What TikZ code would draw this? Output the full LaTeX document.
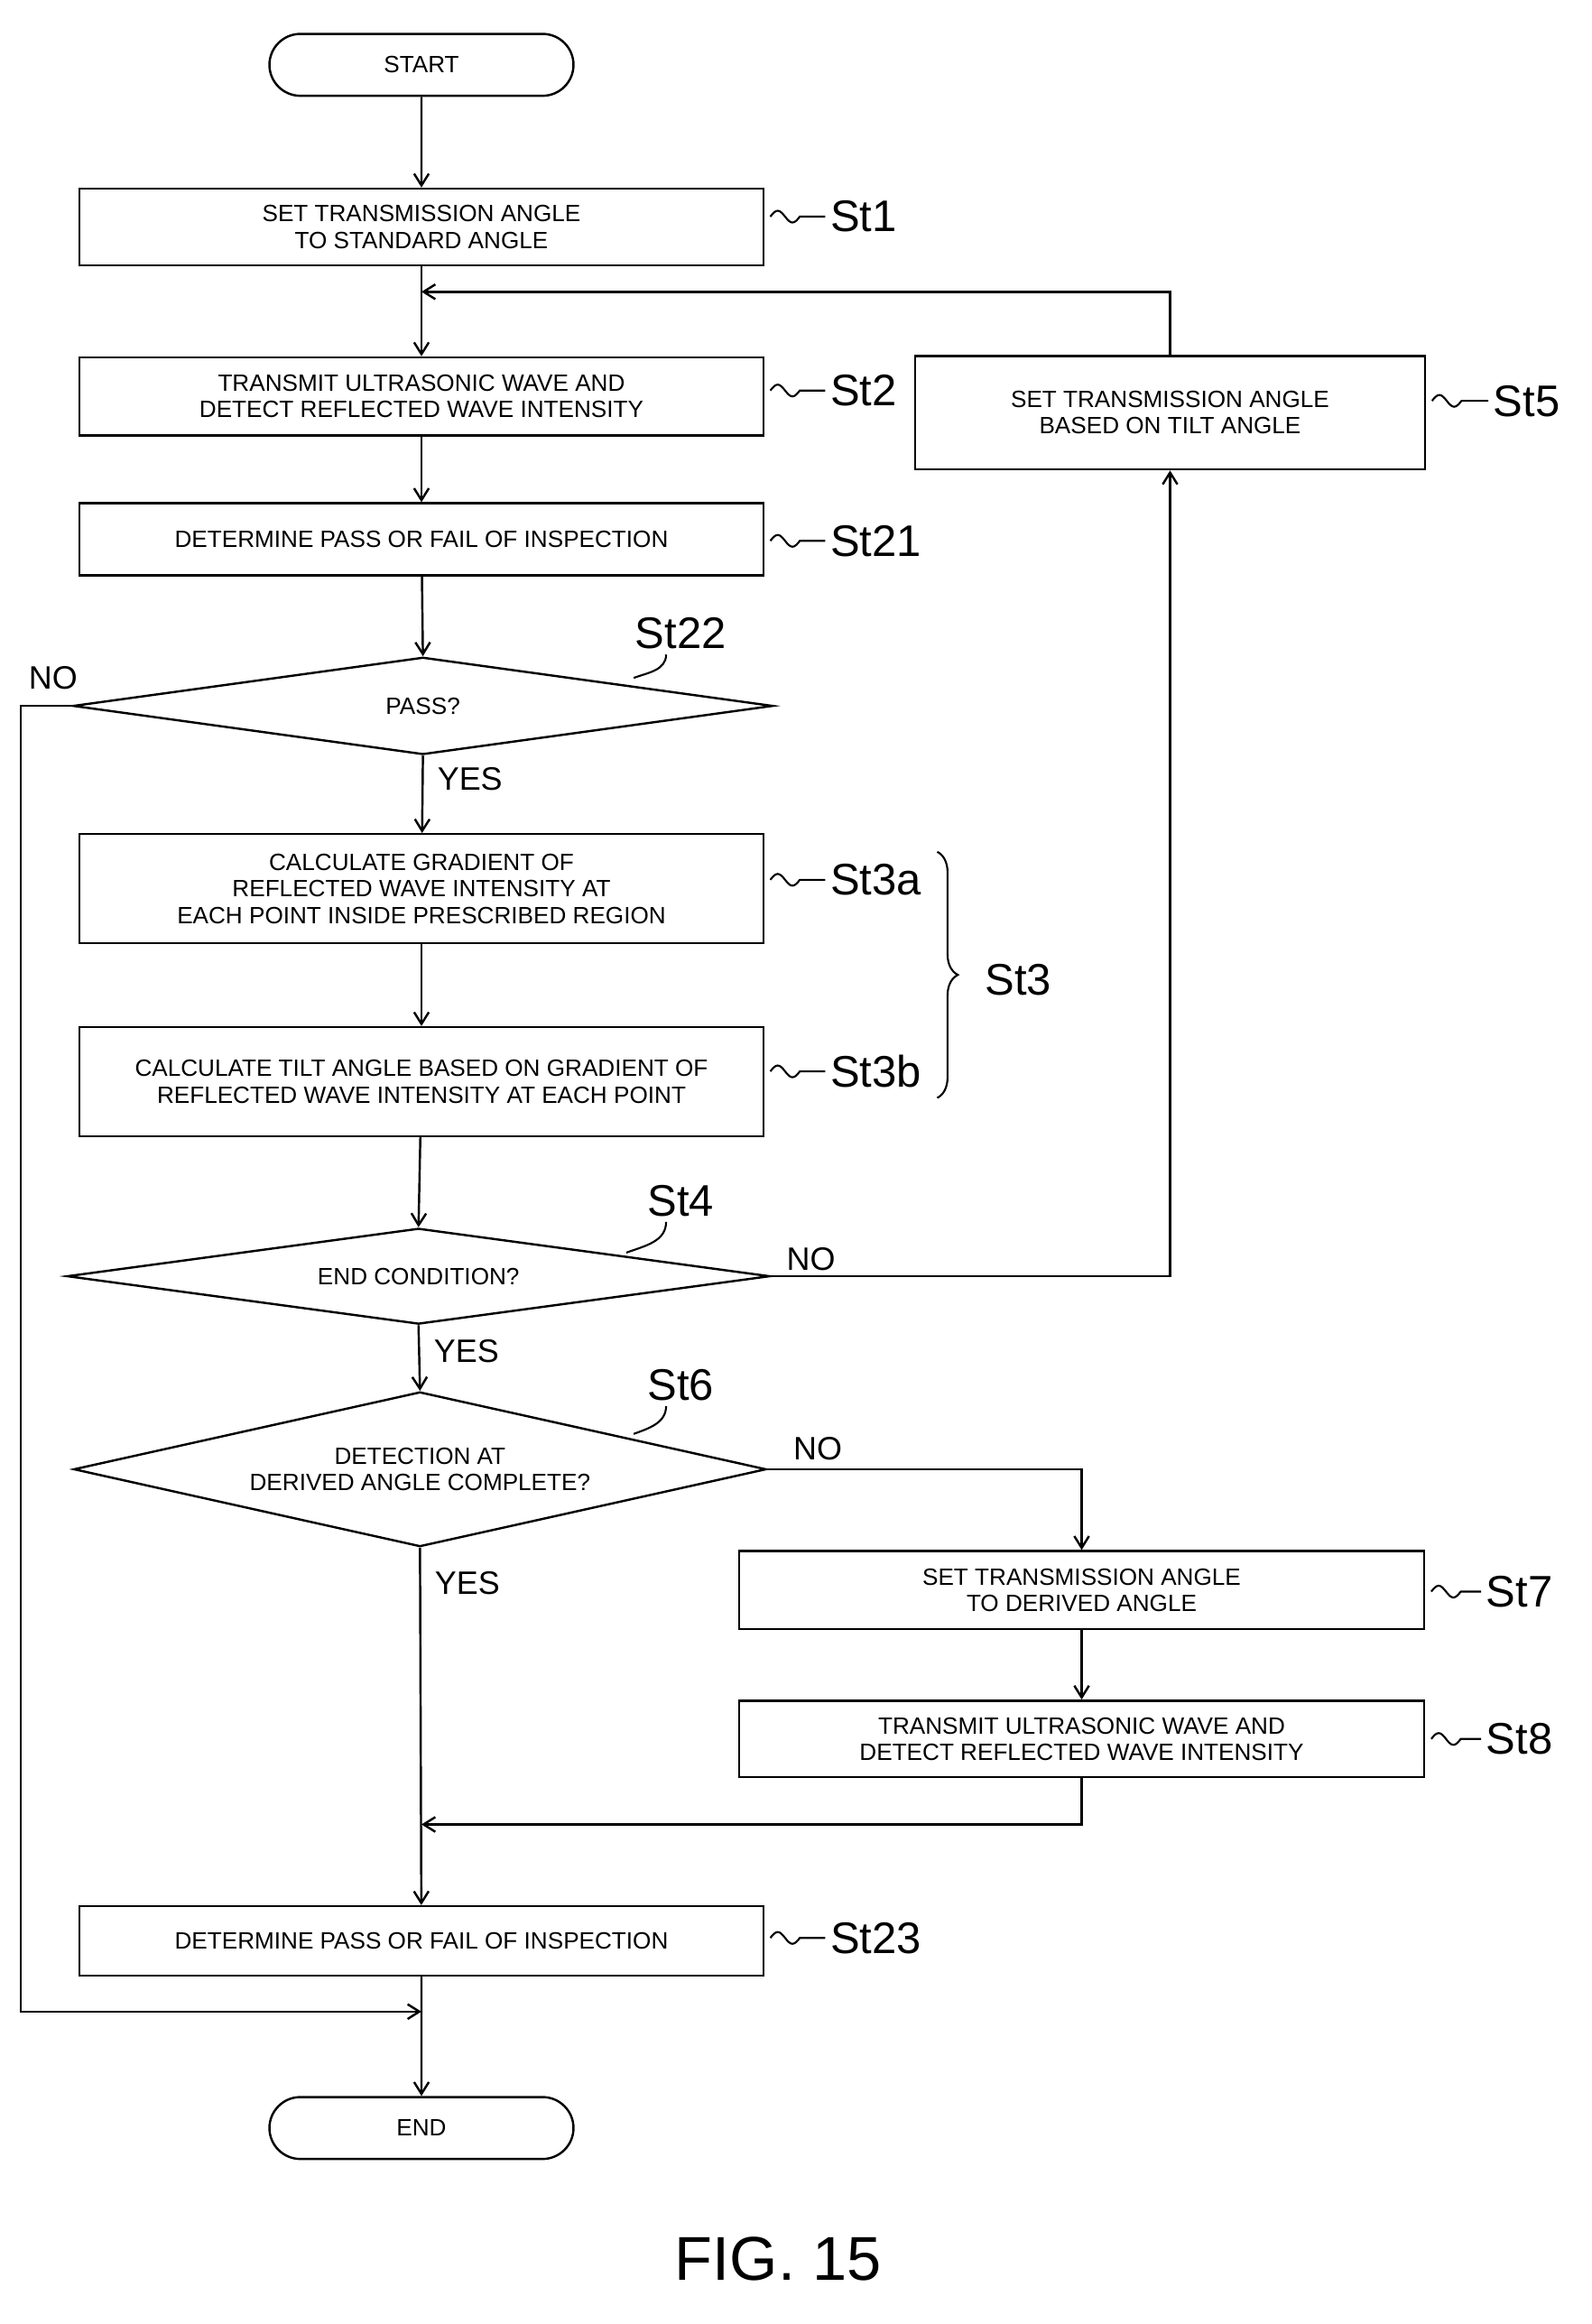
\documentclass[tikz,border=0pt]{standalone}
\usepackage{fontspec}
\setmainfont{Liberation Sans}
\usetikzlibrary{arrows.meta,positioning,shapes.geometric,shapes.misc,calc,decorations.pathreplacing}
\tikzset{
  proc/.style={draw, line width=1.5pt, fill=white, align=center, font=\fontsize{16}{18}\selectfont, inner sep=0pt},
  term/.style={draw, line width=1.5pt, rounded rectangle, minimum width=213pt, minimum height=42pt, font=\fontsize{16}{18}\selectfont},
  check/.style={draw, line width=1.5pt, diamond, inner sep=0pt, label={[align=center, font=\fontsize{16}{18}\selectfont]center:#1}},
  flow/.style={-{Straight Barb[length=8pt,width=10pt]}, line width=1.5pt},
  tag/.style={font=\fontsize{30}{32}\selectfont, anchor=west},
  yn/.style={font=\fontsize{22}{24}\selectfont},
}
\newcommand{\squig}[2]{\draw[line width=1.3pt] (#1) sin ++(5,-4) cos ++(5,4) sin ++(5,4) cos ++(5,-4) -- (#2);}
\begin{document}
\begin{tikzpicture}[x=1pt,y=-1pt]
  \useasboundingbox[fill=white] (0,0) rectangle (1080,1577);
  % terminals and steps
  \node[term] (start) at (286,44) {START};
  \node[proc, minimum width=464pt, minimum height=52pt] (st1) at (286,154) {SET TRANSMISSION ANGLE\\TO STANDARD ANGLE};
  \node[proc, minimum width=464pt, minimum height=53pt] (st2) at (286,269) {TRANSMIT ULTRASONIC WAVE AND\\DETECT REFLECTED WAVE INTENSITY};
  \node[proc, minimum width=346pt, minimum height=77pt] (st5) at (794,280) {SET TRANSMISSION ANGLE\\BASED ON TILT ANGLE};
  \node[proc, minimum width=464pt, minimum height=49pt] (st21) at (286,366) {DETERMINE PASS OR FAIL OF INSPECTION};
  \node[check={PASS?}, minimum width=475pt, minimum height=66pt] (st22) at (287,479) {};
  \node[proc, minimum width=464pt, minimum height=74pt] (st3a) at (286,603) {CALCULATE GRADIENT OF\\REFLECTED WAVE INTENSITY AT\\EACH POINT INSIDE PRESCRIBED REGION};
  \node[proc, minimum width=464pt, minimum height=74pt] (st3b) at (286,734) {CALCULATE TILT ANGLE BASED ON GRADIENT OF\\REFLECTED WAVE INTENSITY AT EACH POINT};
  \node[check={END CONDITION?}, minimum width=477pt, minimum height=65pt] (st4) at (284,866) {};
  \node[check={DETECTION AT\\DERIVED ANGLE COMPLETE?}, minimum width=470pt, minimum height=105pt] (st6) at (285,997) {};
  \node[proc, minimum width=465pt, minimum height=53pt] (st7) at (734,1079) {SET TRANSMISSION ANGLE\\TO DERIVED ANGLE};
  \node[proc, minimum width=465pt, minimum height=52pt] (st8) at (734,1180) {TRANSMIT ULTRASONIC WAVE AND\\DETECT REFLECTED WAVE INTENSITY};
  \node[proc, minimum width=464pt, minimum height=47pt] (st23) at (286,1317) {DETERMINE PASS OR FAIL OF INSPECTION};
  \node[term] (end) at (286,1444) {END};
  % junction points
  \coordinate (jtop) at (286,198);
  \coordinate (jmid) at (286,1238);
  \coordinate (jbot) at (286,1365);
  % main flow
  \draw[flow] (start) -- (st1);
  \draw[flow] (st1) -- (st2);
  \draw[flow] (st2) -- (st21);
  \draw[flow] (st21) -- (st22.north);
  \draw[flow] (st22.south) -- node[yn, right=6pt, pos=0.3]{YES} (st3a);
  \draw[flow] (st3a) -- (st3b);
  \draw[flow] (st3b) -- (st4.north);
  \draw[flow] (st4.south) -- node[yn, right=6pt, pos=0.4]{YES} (st6.north);
  \draw[flow] (st6.south) -- node[yn, right=6pt, pos=0.1]{YES} (st23);
  \draw[flow] (st23) -- (end);
  \draw[flow] (st7) -- (st8);
  % loops and branches
  \draw[flow] (st22.west) -- (14,479) |- (jbot);
  \node[yn] at (36,460) {NO};
  \draw[flow] (st4.east) -| node[yn, pos=0.05, above]{NO} (st5.south);
  \draw[flow] (st5.north) |- (jtop);
  \draw[flow] (st6.east) -| node[yn, pos=0.08, above=2pt]{NO} (st7.north);
  \draw[flow] (st8.south) |- (jmid);
  % step tags
  \node[tag] (t1) at (560,147) {St1};
  \node[tag] (t2) at (560,265) {St2};
  \node[tag] (t5) at (1010,272) {St5};
  \node[tag] (t21) at (560,367) {St21};
  \node[tag] (t3a) at (560,597) {St3a};
  \node[tag] (t3b) at (560,727) {St3b};
  \node[tag] (t7) at (1005,1080) {St7};
  \node[tag] (t8) at (1005,1180) {St8};
  \node[tag] (t23) at (560,1315) {St23};
  \squig{$(st1.east)+(4,-7)$}{t1.west}
  \squig{$(st2.east)+(4,-4)$}{t2.west}
  \squig{$(st5.east)+(4,-8)$}{t5.west}
  \squig{$(st21.east)+(4,1)$}{t21.west}
  \squig{$(st3a.east)+(4,-6)$}{t3a.west}
  \squig{$(st3b.east)+(4,-7)$}{t3b.west}
  \squig{$(st7.east)+(4,1)$}{t7.west}
  \squig{$(st8.east)+(4,0)$}{t8.west}
  \squig{$(st23.east)+(4,-2)$}{t23.west}
  \node[tag, anchor=center] (t22) at (462,430) {St22};
  \node[tag, anchor=center] (t4) at (462,815) {St4};
  \node[tag, anchor=center] (t6) at (462,940) {St6};
  \draw[line width=1.3pt] (t22.south) ++(-10,0) to[out=-90,in=20] (430,460);
  \draw[line width=1.3pt] (t4.south) ++(-10,0) to[out=-90,in=20] (425,850);
  \draw[line width=1.3pt] (t6.south) ++(-10,0) to[out=-90,in=20] (430,973);
  % brace for St3
  \draw[line width=1.3pt, decorate, decoration={brace, amplitude=14pt}] (636,578) -- (636,745);
  \node[tag] (t3) at (665,665) {St3};
  % caption
  \node[font=\fontsize{42}{44}\selectfont] (fig) at (528,1533) {FIG. 15};
\end{tikzpicture}
\end{document}
